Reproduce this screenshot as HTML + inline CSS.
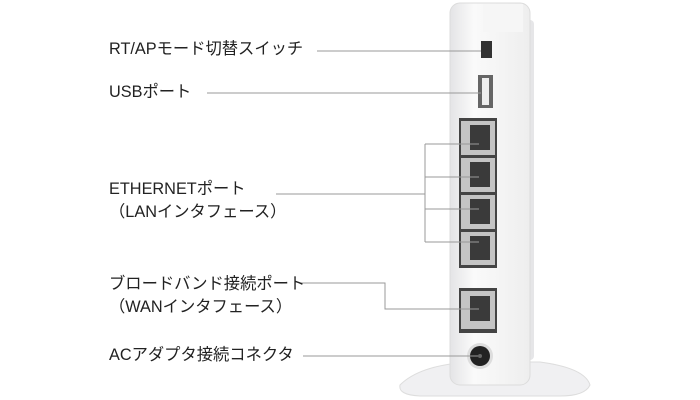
<!DOCTYPE html>
<html><head><meta charset="utf-8"><style>
body{margin:0;width:700px;height:400px;background:#fff;overflow:hidden;position:relative;font-family:"Liberation Sans","Noto Sans CJK JP",sans-serif;color:#222}
.t{position:absolute;left:109px;font-size:16.3px;line-height:23px;white-space:nowrap}
svg{position:absolute;left:0;top:0}
</style></head><body>
<svg width="700" height="400">
<defs><linearGradient id="b" x1="0" x2="1"><stop offset="0" stop-color="#e4e4e6"/><stop offset=".3" stop-color="#fafafa"/><stop offset="1" stop-color="#eeeeee"/></linearGradient></defs>
<path d="M400 385 Q420 365 470 362 L540 362 Q585 368 590 385 Q585 396 560 396 L420 396 Q398 395 400 385Z" fill="#f0f0f2" stroke="#ddd"/>
<rect x="518" y="20" width="16" height="340" rx="4" fill="#e6e6e8"/>
<rect x="450" y="3" width="80" height="382" rx="10" fill="url(#b)" stroke="#dcdcdc"/>
<rect x="483" y="4" width="40" height="28" fill="#f6f6f6"/>
<rect x="481" y="41" width="11" height="17" fill="#333"/>
<rect x="478" y="75" width="15" height="33" fill="#666"/><rect x="482" y="78" width="7" height="27" fill="#eee"/>
<rect x="459" y="118" width="38" height="150" fill="#444"/>
<g fill="#c4c4c4">
<rect x="461" y="121" width="34" height="34"/><rect x="461" y="158" width="34" height="34"/><rect x="461" y="195" width="34" height="34"/><rect x="461" y="232" width="34" height="33"/>
</g>
<g fill="#3a3a3a">
<rect x="470" y="125" width="20" height="25"/><rect x="470" y="162" width="20" height="25"/><rect x="470" y="199" width="20" height="25"/><rect x="470" y="236" width="20" height="24"/>
</g>
<rect x="459" y="288" width="38" height="45" fill="#444"/><rect x="461" y="291" width="34" height="38" fill="#c4c4c4"/><rect x="470" y="296" width="20" height="25" fill="#3a3a3a"/>
<circle cx="480" cy="356" r="13" fill="#ddd"/><circle cx="480" cy="356" r="10" fill="#222"/><circle cx="480" cy="356" r="2" fill="#666"/>
<g stroke="#999" stroke-width="1" fill="none">
<path d="M317 51H481"/>
<path d="M207 93H481"/>
<path d="M276 194H425M425 144V242M425 144H479M425 177H479M425 209H479M425 242H479"/>
<path d="M300 283H385V309H479"/>
<path d="M303 356H478"/>
</g>
</svg>
<div class="t" style="top:38px">RT/APモード切替スイッチ</div>
<div class="t" style="top:81px">USBポート</div>
<div class="t" style="top:178px">ETHERNETポート<br>（LANインタフェース）</div>
<div class="t" style="top:273px">ブロードバンド接続ポート<br>（WANインタフェース）</div>
<div class="t" style="top:344px">ACアダプタ接続コネクタ</div>
</body></html>
